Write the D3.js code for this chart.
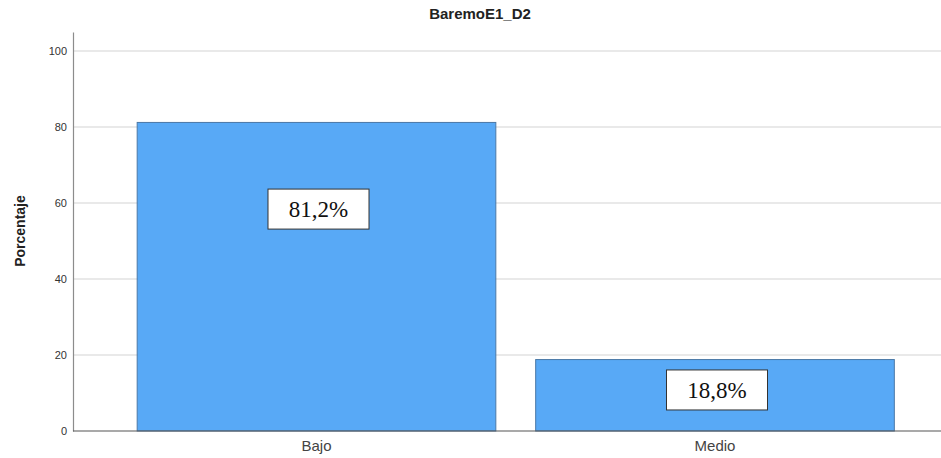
<!DOCTYPE html>
<html><head><meta charset="utf-8">
<script src="https://cdn.jsdelivr.net/npm/d3@7"></script>
<style>body{margin:0;background:#fff}</style>
</head><body>
<svg id="c" width="941" height="458"></svg>
<script>
const categories = ["Bajo", "Medio"];
const values = [81.2, 18.8];
const labels = ["81,2%", "18,8%"];
const labelPos = [58.4, 10.8];
const yTicks = [0, 20, 40, 60, 80, 100];
const title = "BaremoE1_D2";
const yTitle = "Porcentaje";

const svg = d3.select("#c");
const y = d3.scaleLinear().domain([0, 105]).range([431, 32]);
const x = d3.scaleBand().domain(categories).range([117.25, 914.25]).paddingInner(0.1).paddingOuter(0.05);

// gridlines
svg.append("g").selectAll("line").data(yTicks.filter(d => d > 0)).join("line")
  .attr("x1", 73).attr("x2", 941).attr("y1", d => y(d)).attr("y2", d => y(d))
  .attr("stroke", "#d4d4d4").attr("stroke-width", 1.2);

// bars
svg.append("g").selectAll("rect").data(values).join("rect")
  .attr("x", (d, i) => x(categories[i])).attr("width", x.bandwidth())
  .attr("y", d => y(d)).attr("height", d => y(0) - y(d))
  .attr("fill", "#58a9f6").attr("stroke", "#4a78a6").attr("stroke-width", 1);

// y axis
const ya = svg.append("g").attr("transform", "translate(73,0)")
  .call(d3.axisLeft(y).tickValues(yTicks).tickSize(0).tickPadding(6));
ya.select(".domain").attr("stroke", "#8c8c8c").attr("stroke-width", 1.2);
ya.selectAll("text").attr("font-family", "Liberation Sans, Arial, sans-serif").attr("font-size", 11).attr("fill", "#333");

// x axis
const xa = svg.append("g").attr("transform", "translate(0,431)")
  .call(d3.axisBottom(x).tickSize(0).tickPadding(9));
xa.select(".domain").attr("d", "M73,0H941").attr("stroke", "#555").attr("stroke-width", 1.2);
xa.selectAll("text").attr("font-family", "Liberation Sans, Arial, sans-serif").attr("font-size", 15).attr("fill", "#444");

// value labels
const lg = svg.append("g").selectAll("g").data(values).join("g")
  .attr("transform", (d, i) => `translate(${x(categories[i]) + x.bandwidth() / 2 + 2},${y(labelPos[i])})`);
lg.append("rect").attr("x", -50.5).attr("y", -20).attr("width", 101).attr("height", 40)
  .attr("fill", "#fff").attr("stroke", "#333").attr("stroke-width", 1);
lg.append("text").text((d, i) => labels[i]).attr("text-anchor", "middle").attr("dy", 8)
  .attr("font-family", "Liberation Serif, Times New Roman, serif").attr("font-size", 23).attr("fill", "#111");

// titles
svg.append("text").text(title).attr("x", 480).attr("y", 19).attr("text-anchor", "middle")
  .attr("font-family", "Liberation Sans, Arial, sans-serif").attr("font-weight", "bold").attr("font-size", 15).attr("fill", "#222");
svg.append("text").text(yTitle).attr("transform", "translate(25,231) rotate(-90)").attr("text-anchor", "middle")
  .attr("font-family", "Liberation Sans, Arial, sans-serif").attr("font-weight", "bold").attr("font-size", 14).attr("fill", "#222");
</script>
</body></html>
